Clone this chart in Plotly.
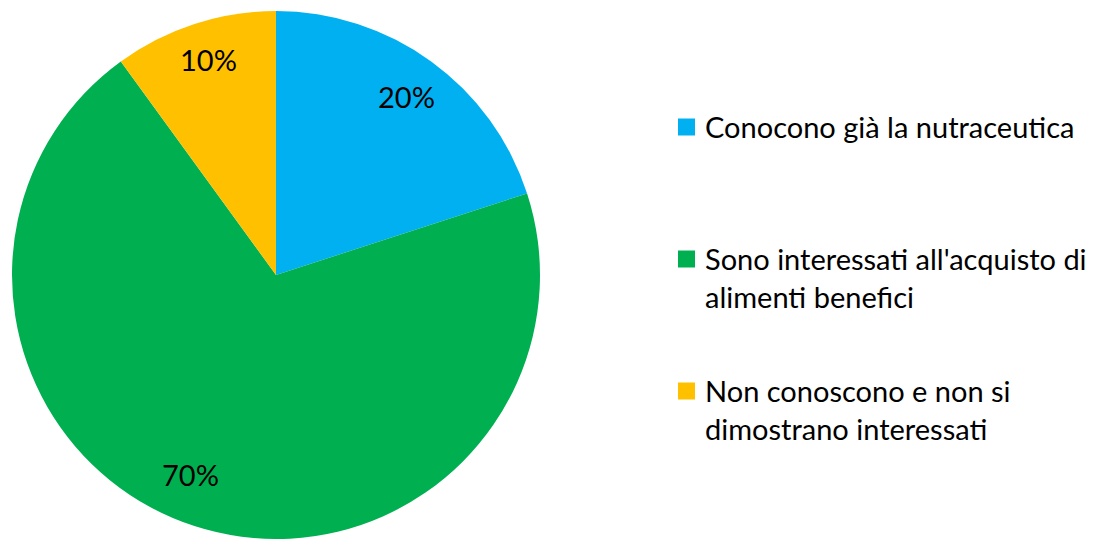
import math
import plotly.graph_objects as go

# Survey answers about nutraceutics
labels = [
    "Conocono già la nutraceutica",
    "Sono interessati all'acquisto di<br>alimenti benefici",
    "Non conoscono e non si<br>dimostrano interessati",
]
values = [20, 70, 10]
colors = ["#00B0F0", "#00B050", "#FFC000"]

W, H = 1101, 539
FONT = "Lato"
FSIZE = 29

# Pie placement in pixels
cx_px, top_px, radius_px = 276, 11, 265
cy_px = top_px + radius_px

dom_x = [(cx_px - radius_px) / W, (cx_px + radius_px) / W]
dom_y = [max(0, 1 - (top_px + 2 * radius_px) / H), 1 - top_px / H]

fig = go.Figure(
    go.Pie(
        labels=labels,
        values=values,
        marker=dict(colors=colors, line=dict(width=0)),
        sort=False,
        direction="clockwise",
        rotation=0,
        textinfo="none",
        showlegend=False,
        domain=dict(x=dom_x, y=dom_y),
        hoverinfo="label+percent",
    )
)

annotations = []
shapes = []

# Percentage labels near the middle angle of each slice (small nudges in px)
label_nudge = [(1, -2), (-18, -11), (0, -7)]
total = sum(values)
cum = 0
for v, (nx, ny) in zip(values, label_nudge):
    mid = (cum + v / 2) / total * 2 * math.pi
    cum += v
    r = 0.83 * radius_px
    x_px = cx_px + r * math.sin(mid) + nx
    y_px = cy_px - r * math.cos(mid) + ny
    annotations.append(
        dict(
            x=x_px / W, y=1 - y_px / H, xref="paper", yref="paper",
            text=f"{round(v / total * 100)}%", showarrow=False,
            font=dict(family=FONT, size=FSIZE, color="#000000"),
            xanchor="center", yanchor="middle",
        )
    )

# Legend on the right: coloured square + text
leg_sq_x0, leg_sq_size, leg_text_x = 678, 17, 703
leg_first_y, leg_step = 127, 132
for i, (lab, col) in enumerate(zip(labels, colors)):
    yc = leg_first_y + i * leg_step
    shapes.append(
        dict(
            type="rect", xref="paper", yref="paper",
            x0=leg_sq_x0 / W, x1=(leg_sq_x0 + leg_sq_size) / W,
            y0=1 - (yc + leg_sq_size / 2) / H, y1=1 - (yc - leg_sq_size / 2) / H,
            fillcolor=col, line=dict(width=0),
        )
    )
    annotations.append(
        dict(
            x=leg_text_x / W, y=1 - (yc - 20) / H, xref="paper", yref="paper",
            text=lab, showarrow=False, align="left",
            font=dict(family=FONT, size=FSIZE, color="#000000"),
            xanchor="left", yanchor="top",
        )
    )

fig.update_layout(
    width=W, height=H,
    margin=dict(l=0, r=0, t=0, b=0),
    paper_bgcolor="#FFFFFF",
    plot_bgcolor="#FFFFFF",
    annotations=annotations,
    shapes=shapes,
)

fig.write_html("out.html")
